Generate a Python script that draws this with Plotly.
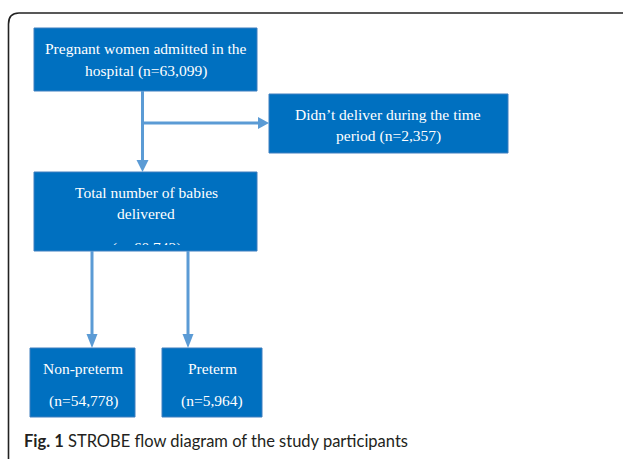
import plotly.graph_objects as go

# ---- data: flow boxes (text lines) ----
box_names = ["admitted", "not_delivered", "delivered", "non_preterm", "preterm"]
box_lines = [
    ["Pregnant women admitted in the", "hospital (n=63,099)"],
    ["Didn\u2019t deliver during the time", "period (n=2,357)"],
    ["Total number of babies", "delivered"],
    ["Non-preterm", "(n=54,778)"],
    ["Preterm", "(n=5,964)"],
]
clipped_line = "(n=60,742)"
caption_bold = "Fig. 1"
caption_text = "STROBE flow diagram of the study participants"

# ---- layout (pixel geometry) ----
box_rects = [
    (34, 28, 257, 91),
    (269, 94, 508, 153),
    (34, 172, 257, 251),
    (30, 348, 135, 417),
    (162, 348, 262, 417),
]
text_centers_x = [146, 388, 146, 83, 212]
text_lines_y = [[48, 71], [114, 136], [192, 213], [368, 401], [368, 401]]

BOX_FILL = "#0070C0"
BOX_LINE = "#3F7FBF"
ARROW = "#5B9BD5"
W, H = 625, 459

fig = go.Figure()
shapes = []
annotations = []

# outer rounded frame (top and left edges visible)
shapes.append(dict(type="path", xref="x", yref="y",
                   path="M 623,13 L 19,13 Q 8.5,13 8.5,24 L 8.5,462",
                   line=dict(color="#222222", width=1.6)))

for (x0, y0, x1, y1) in box_rects:
    shapes.append(dict(type="rect", xref="x", yref="y", x0=x0, y0=y0, x1=x1, y1=y1,
                       fillcolor=BOX_FILL, line=dict(color=BOX_LINE, width=1)))

def vline(x, y0, y1):
    shapes.append(dict(type="line", xref="x", yref="y", x0=x, x1=x, y0=y0, y1=y1,
                       line=dict(color=ARROW, width=3)))

def hline(y, x0, x1):
    shapes.append(dict(type="line", xref="x", yref="y", x0=x0, x1=x1, y0=y, y1=y,
                       line=dict(color=ARROW, width=3)))

def tri_down(x, ytop, ytip, hw=6):
    shapes.append(dict(type="path", xref="x", yref="y",
                       path=f"M {x-hw},{ytop} L {x+hw},{ytop} L {x},{ytip} Z",
                       fillcolor=ARROW, line=dict(color=ARROW, width=0)))

def tri_right(y, xleft, xtip, hh=6):
    shapes.append(dict(type="path", xref="x", yref="y",
                       path=f"M {xleft},{y-hh} L {xleft},{y+hh} L {xtip},{y} Z",
                       fillcolor=ARROW, line=dict(color=ARROW, width=0)))

# arrow: admitted -> delivered
vline(142.5, 91, 161)
tri_down(142.5, 160, 172)
# arrow: branch -> not delivered
hline(123, 142.5, 259)
tri_right(123, 258, 269)
# arrows: delivered -> non-preterm / preterm
vline(92, 251, 335)
tri_down(92, 334, 348, hw=5.5)
vline(188, 251, 335)
tri_down(188, 334, 348, hw=5.5)

font_box = dict(family="Liberation Serif", size=15.5, color="white")
for cx, lines, ys in zip(text_centers_x, box_lines, text_lines_y):
    for t, y in zip(lines, ys):
        annotations.append(dict(x=cx, y=y, xref="x", yref="y", text=t, showarrow=False,
                                font=font_box, xanchor="center", yanchor="middle"))

# partially hidden third line of the "delivered" box
annotations.append(dict(x=146, y=238, xref="x", yref="y", text=clipped_line, showarrow=False,
                        font=font_box, xanchor="center", yanchor="top", valign="top",
                        height=6, borderpad=0))

# caption
annotations.append(dict(x=22, y=441, xref="x", yref="y",
                        text=f"<b>{caption_bold}</b> {caption_text}", showarrow=False,
                        font=dict(family="Lato", size=16.5, color="#231F20"),
                        xanchor="left", yanchor="middle"))

fig.update_layout(
    width=W, height=H, margin=dict(l=0, r=0, t=0, b=0),
    paper_bgcolor="white", plot_bgcolor="white",
    xaxis=dict(range=[0, W], visible=False, fixedrange=True),
    yaxis=dict(range=[H, 0], visible=False, fixedrange=True),
    shapes=shapes, annotations=annotations, showlegend=False,
)
fig.write_html("out.html", config={"displayModeBar": False},
               post_script="document.body.style.margin='0';document.body.style.overflow='hidden';")
